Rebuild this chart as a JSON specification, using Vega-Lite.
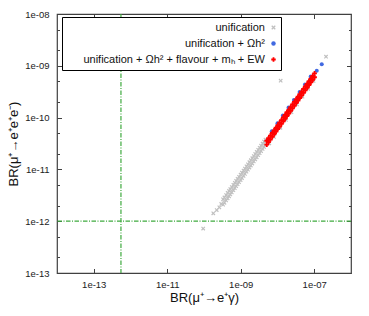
{
  "$schema": "https://vega.github.io/schema/vega-lite/v6.json",
  "width": 294,
  "height": 259,
  "autosize": {"type": "none"},
  "padding": {"left": 57, "top": 14, "right": 18, "bottom": 43},
  "background": "white",
  "config": {
    "font": "Liberation Sans",
    "view": {"stroke": "#404040", "strokeWidth": 1.2},
    "axis": {"domain": false, "grid": false, "tickColor": "#404040", "tickWidth": 1, "labelFont": "Liberation Sans", "labelFontSize": 9.5, "labelColor": "#222", "titleFont": "Liberation Sans", "titleFontSize": 13, "titleFontWeight": "normal", "titleColor": "#111"},
    "legend": {"orient": "none", "legendX": 5, "legendY": 3, "strokeColor": "#000", "fillColor": "#fff", "padding": 5, "labelFont": "Liberation Sans", "labelFontSize": 11, "labelColor": "#111", "labelAlign": "right", "labelOffset": -14, "symbolOffset": 201, "symbolSize": 20, "rowPadding": 4, "labelLimit": 300, "symbolStrokeWidth": 0}
  },
  "datasets": {
    "vline": [{"x": 5.5e-13}],
    "hline": [{"y": 1e-12}],
    "gray": [
      {"series": "unification", "x": 9.5e-11, "y": 7.2e-13},
      {"series": "unification", "x": 1.79e-10, "y": 1.42e-12},
      {"series": "unification", "x": 2.22e-10, "y": 1.64e-12},
      {"series": "unification", "x": 2.61e-10, "y": 1.85e-12},
      {"series": "unification", "x": 2.95e-10, "y": 2.15e-12},
      {"series": "unification", "x": 3.3e-10, "y": 2.08e-12},
      {"series": "unification", "x": 3.3e-10, "y": 2.64e-12},
      {"series": "unification", "x": 3.6e-10, "y": 2.27e-12},
      {"series": "unification", "x": 3.6e-10, "y": 2.88e-12},
      {"series": "unification", "x": 4.0e-10, "y": 2.52e-12},
      {"series": "unification", "x": 4.0e-10, "y": 3.20e-12},
      {"series": "unification", "x": 4.4e-10, "y": 2.77e-12},
      {"series": "unification", "x": 4.4e-10, "y": 3.52e-12},
      {"series": "unification", "x": 4.8e-10, "y": 3.02e-12},
      {"series": "unification", "x": 4.8e-10, "y": 3.84e-12},
      {"series": "unification", "x": 5.2e-10, "y": 3.28e-12},
      {"series": "unification", "x": 5.2e-10, "y": 4.16e-12},
      {"series": "unification", "x": 5.7e-10, "y": 3.59e-12},
      {"series": "unification", "x": 5.7e-10, "y": 4.56e-12},
      {"series": "unification", "x": 6.3e-10, "y": 3.97e-12},
      {"series": "unification", "x": 6.3e-10, "y": 5.04e-12},
      {"series": "unification", "x": 6.9e-10, "y": 4.35e-12},
      {"series": "unification", "x": 6.9e-10, "y": 5.52e-12},
      {"series": "unification", "x": 7.5e-10, "y": 4.73e-12},
      {"series": "unification", "x": 7.5e-10, "y": 6.00e-12},
      {"series": "unification", "x": 8.2e-10, "y": 5.17e-12},
      {"series": "unification", "x": 8.2e-10, "y": 6.56e-12},
      {"series": "unification", "x": 9.0e-10, "y": 5.67e-12},
      {"series": "unification", "x": 9.0e-10, "y": 7.20e-12},
      {"series": "unification", "x": 9.9e-10, "y": 6.24e-12},
      {"series": "unification", "x": 9.9e-10, "y": 7.92e-12},
      {"series": "unification", "x": 1.08e-9, "y": 6.80e-12},
      {"series": "unification", "x": 1.08e-9, "y": 8.64e-12},
      {"series": "unification", "x": 1.19e-9, "y": 7.50e-12},
      {"series": "unification", "x": 1.19e-9, "y": 9.52e-12},
      {"series": "unification", "x": 1.30e-9, "y": 8.19e-12},
      {"series": "unification", "x": 1.30e-9, "y": 1.040e-11},
      {"series": "unification", "x": 1.43e-9, "y": 9.01e-12},
      {"series": "unification", "x": 1.43e-9, "y": 1.144e-11},
      {"series": "unification", "x": 1.57e-9, "y": 9.89e-12},
      {"series": "unification", "x": 1.57e-9, "y": 1.256e-11},
      {"series": "unification", "x": 1.72e-9, "y": 1.084e-11},
      {"series": "unification", "x": 1.72e-9, "y": 1.376e-11},
      {"series": "unification", "x": 1.88e-9, "y": 1.184e-11},
      {"series": "unification", "x": 1.88e-9, "y": 1.504e-11},
      {"series": "unification", "x": 2.06e-9, "y": 1.298e-11},
      {"series": "unification", "x": 2.06e-9, "y": 1.648e-11},
      {"series": "unification", "x": 2.26e-9, "y": 1.424e-11},
      {"series": "unification", "x": 2.26e-9, "y": 1.808e-11},
      {"series": "unification", "x": 2.48e-9, "y": 1.562e-11},
      {"series": "unification", "x": 2.48e-9, "y": 1.984e-11},
      {"series": "unification", "x": 2.72e-9, "y": 1.714e-11},
      {"series": "unification", "x": 2.72e-9, "y": 2.176e-11},
      {"series": "unification", "x": 2.98e-9, "y": 1.877e-11},
      {"series": "unification", "x": 2.98e-9, "y": 2.384e-11},
      {"series": "unification", "x": 3.27e-9, "y": 2.060e-11},
      {"series": "unification", "x": 3.27e-9, "y": 2.616e-11},
      {"series": "unification", "x": 3.58e-9, "y": 2.255e-11},
      {"series": "unification", "x": 3.58e-9, "y": 2.864e-11},
      {"series": "unification", "x": 3.93e-9, "y": 2.476e-11},
      {"series": "unification", "x": 3.93e-9, "y": 3.144e-11},
      {"series": "unification", "x": 4.3e-9, "y": 2.709e-11},
      {"series": "unification", "x": 4.3e-9, "y": 3.440e-11},
      {"series": "unification", "x": 4.7e-9, "y": 2.961e-11},
      {"series": "unification", "x": 4.7e-9, "y": 3.760e-11},
      {"series": "unification", "x": 6.0e-9, "y": 3.18e-11},
      {"series": "unification", "x": 8.0e-9, "y": 4.24e-11},
      {"series": "unification", "x": 1.2e-8, "y": 6.36e-11},
      {"series": "unification", "x": 1.7e-8, "y": 9.01e-11},
      {"series": "unification", "x": 2.4e-8, "y": 1.272e-10},
      {"series": "unification", "x": 3.4e-8, "y": 1.80e-10},
      {"series": "unification", "x": 4.8e-8, "y": 2.54e-10},
      {"series": "unification", "x": 6.8e-8, "y": 3.60e-10},
      {"series": "unification", "x": 9.6e-8, "y": 5.09e-10},
      {"series": "unification", "x": 1.22e-8, "y": 5.15e-10},
      {"series": "unification", "x": 2.09e-7, "y": 1.50e-9}
    ],
    "blue": [
      {"series": "unification + Ωh²", "x": 5.5e-9, "y": 3.6e-11},
      {"series": "unification + Ωh²", "x": 7.0e-9, "y": 5.46e-11},
      {"series": "unification + Ωh²", "x": 1.0e-8, "y": 7.8e-11},
      {"series": "unification + Ωh²", "x": 1.4e-8, "y": 1.092e-10},
      {"series": "unification + Ωh²", "x": 2.0e-8, "y": 1.56e-10},
      {"series": "unification + Ωh²", "x": 2.8e-8, "y": 2.184e-10},
      {"series": "unification + Ωh²", "x": 4.0e-8, "y": 3.12e-10},
      {"series": "unification + Ωh²", "x": 5.6e-8, "y": 4.368e-10},
      {"series": "unification + Ωh²", "x": 8.0e-8, "y": 6.24e-10},
      {"series": "unification + Ωh²", "x": 1.17e-7, "y": 8.04e-10},
      {"series": "unification + Ωh²", "x": 1.6e-7, "y": 1.07e-9}
    ],
    "red": [
      {"series": "unification + Ωh² + flavour + mₕ + EW", "x": 5.1e-9, "y": 3.01e-11},
      {"series": "unification + Ωh² + flavour + mₕ + EW", "x": 5.1e-9, "y": 3.57e-11},
      {"series": "unification + Ωh² + flavour + mₕ + EW", "x": 5.7e-9, "y": 3.36e-11},
      {"series": "unification + Ωh² + flavour + mₕ + EW", "x": 5.7e-9, "y": 3.99e-11},
      {"series": "unification + Ωh² + flavour + mₕ + EW", "x": 6.4e-9, "y": 3.78e-11},
      {"series": "unification + Ωh² + flavour + mₕ + EW", "x": 6.4e-9, "y": 4.48e-11},
      {"series": "unification + Ωh² + flavour + mₕ + EW", "x": 7.2e-9, "y": 4.25e-11},
      {"series": "unification + Ωh² + flavour + mₕ + EW", "x": 7.2e-9, "y": 5.04e-11},
      {"series": "unification + Ωh² + flavour + mₕ + EW", "x": 8.1e-9, "y": 4.78e-11},
      {"series": "unification + Ωh² + flavour + mₕ + EW", "x": 8.1e-9, "y": 5.67e-11},
      {"series": "unification + Ωh² + flavour + mₕ + EW", "x": 9.1e-9, "y": 5.37e-11},
      {"series": "unification + Ωh² + flavour + mₕ + EW", "x": 9.1e-9, "y": 6.37e-11},
      {"series": "unification + Ωh² + flavour + mₕ + EW", "x": 1.02e-8, "y": 6.02e-11},
      {"series": "unification + Ωh² + flavour + mₕ + EW", "x": 1.02e-8, "y": 7.14e-11},
      {"series": "unification + Ωh² + flavour + mₕ + EW", "x": 1.14e-8, "y": 6.73e-11},
      {"series": "unification + Ωh² + flavour + mₕ + EW", "x": 1.14e-8, "y": 7.98e-11},
      {"series": "unification + Ωh² + flavour + mₕ + EW", "x": 1.28e-8, "y": 7.55e-11},
      {"series": "unification + Ωh² + flavour + mₕ + EW", "x": 1.28e-8, "y": 8.96e-11},
      {"series": "unification + Ωh² + flavour + mₕ + EW", "x": 1.44e-8, "y": 8.50e-11},
      {"series": "unification + Ωh² + flavour + mₕ + EW", "x": 1.44e-8, "y": 1.008e-10},
      {"series": "unification + Ωh² + flavour + mₕ + EW", "x": 1.61e-8, "y": 9.50e-11},
      {"series": "unification + Ωh² + flavour + mₕ + EW", "x": 1.61e-8, "y": 1.127e-10},
      {"series": "unification + Ωh² + flavour + mₕ + EW", "x": 1.81e-8, "y": 1.068e-10},
      {"series": "unification + Ωh² + flavour + mₕ + EW", "x": 1.81e-8, "y": 1.267e-10},
      {"series": "unification + Ωh² + flavour + mₕ + EW", "x": 2.03e-8, "y": 1.198e-10},
      {"series": "unification + Ωh² + flavour + mₕ + EW", "x": 2.03e-8, "y": 1.421e-10},
      {"series": "unification + Ωh² + flavour + mₕ + EW", "x": 2.28e-8, "y": 1.345e-10},
      {"series": "unification + Ωh² + flavour + mₕ + EW", "x": 2.28e-8, "y": 1.596e-10},
      {"series": "unification + Ωh² + flavour + mₕ + EW", "x": 2.56e-8, "y": 1.510e-10},
      {"series": "unification + Ωh² + flavour + mₕ + EW", "x": 2.56e-8, "y": 1.792e-10},
      {"series": "unification + Ωh² + flavour + mₕ + EW", "x": 2.87e-8, "y": 1.693e-10},
      {"series": "unification + Ωh² + flavour + mₕ + EW", "x": 2.87e-8, "y": 2.009e-10},
      {"series": "unification + Ωh² + flavour + mₕ + EW", "x": 3.22e-8, "y": 1.900e-10},
      {"series": "unification + Ωh² + flavour + mₕ + EW", "x": 3.22e-8, "y": 2.254e-10},
      {"series": "unification + Ωh² + flavour + mₕ + EW", "x": 3.61e-8, "y": 2.130e-10},
      {"series": "unification + Ωh² + flavour + mₕ + EW", "x": 3.61e-8, "y": 2.527e-10},
      {"series": "unification + Ωh² + flavour + mₕ + EW", "x": 4.05e-8, "y": 2.390e-10},
      {"series": "unification + Ωh² + flavour + mₕ + EW", "x": 4.05e-8, "y": 2.835e-10},
      {"series": "unification + Ωh² + flavour + mₕ + EW", "x": 4.54e-8, "y": 2.679e-10},
      {"series": "unification + Ωh² + flavour + mₕ + EW", "x": 4.54e-8, "y": 3.178e-10},
      {"series": "unification + Ωh² + flavour + mₕ + EW", "x": 5.1e-8, "y": 3.009e-10},
      {"series": "unification + Ωh² + flavour + mₕ + EW", "x": 5.1e-8, "y": 3.570e-10},
      {"series": "unification + Ωh² + flavour + mₕ + EW", "x": 5.7e-8, "y": 3.363e-10},
      {"series": "unification + Ωh² + flavour + mₕ + EW", "x": 5.7e-8, "y": 3.990e-10},
      {"series": "unification + Ωh² + flavour + mₕ + EW", "x": 6.4e-8, "y": 3.776e-10},
      {"series": "unification + Ωh² + flavour + mₕ + EW", "x": 6.4e-8, "y": 4.480e-10},
      {"series": "unification + Ωh² + flavour + mₕ + EW", "x": 7.2e-8, "y": 4.248e-10},
      {"series": "unification + Ωh² + flavour + mₕ + EW", "x": 7.2e-8, "y": 5.040e-10},
      {"series": "unification + Ωh² + flavour + mₕ + EW", "x": 8.1e-8, "y": 4.779e-10},
      {"series": "unification + Ωh² + flavour + mₕ + EW", "x": 8.1e-8, "y": 5.670e-10},
      {"series": "unification + Ωh² + flavour + mₕ + EW", "x": 9.1e-8, "y": 5.369e-10},
      {"series": "unification + Ωh² + flavour + mₕ + EW", "x": 9.1e-8, "y": 6.370e-10},
      {"series": "unification + Ωh² + flavour + mₕ + EW", "x": 1.02e-7, "y": 6.018e-10},
      {"series": "unification + Ωh² + flavour + mₕ + EW", "x": 1.02e-7, "y": 7.140e-10}
    ]
  },
  "layer": [
    {
      "data": {"name": "vline"},
      "mark": {"type": "rule", "strokeWidth": 1.2, "strokeDash": [4.5, 1.5, 1, 1.5]},
      "encoding": {
        "x": {"field": "x", "type": "quantitative", "scale": {"type": "log", "domain": [1e-14, 1e-6], "nice": false}, "axis": null},
        "color": {"value": "#3faa3f"}
      }
    },
    {
      "data": {"name": "hline"},
      "mark": {"type": "rule", "strokeWidth": 1.2, "strokeDash": [4.5, 1.5, 1, 1.5]},
      "encoding": {
        "y": {"field": "y", "type": "quantitative", "scale": {"type": "log", "domain": [1e-13, 1e-8], "nice": false},
          "axis": {"orient": "right", "values": [2e-13, 5e-13, 2e-12, 5e-12, 2e-11, 5e-11, 2e-10, 5e-10, 2e-9, 5e-9], "labels": false, "tickSize": -2.5, "title": null}},
        "color": {"value": "#3faa3f"}
      }
    },
    {
      "data": {"name": "gray"},
      "mark": {"type": "point", "filled": true, "size": 18, "opacity": 1},
      "encoding": {
        "x": {"field": "x", "type": "quantitative", "scale": {"type": "log", "domain": [1e-14, 1e-6], "nice": false},
          "axis": {"orient": "bottom", "values": [1e-13, 1e-11, 1e-9, 1e-7], "tickSize": -4.5, "labelPadding": 10.5, "title": "BR(μ⁺→e⁺γ)", "titlePadding": 3,
            "labelExpr": "'1e-' + (abs(round(log(datum.value)/LN10)) < 10 ? '0' : '') + abs(round(log(datum.value)/LN10))"}},
        "y": {"field": "y", "type": "quantitative", "scale": {"type": "log", "domain": [1e-13, 1e-8], "nice": false},
          "axis": {"orient": "left", "values": [1e-13, 1e-12, 1e-11, 1e-10, 1e-9, 1e-8], "tickSize": -4.5, "labelPadding": 12.5, "title": "BR(μ⁺→e⁺e⁺e⁻)", "titlePadding": 4,
            "labelExpr": "'1e-' + (abs(round(log(datum.value)/LN10)) < 10 ? '0' : '') + abs(round(log(datum.value)/LN10))"}},
        "color": {"field": "series", "type": "nominal", "title": null,
          "scale": {"domain": ["unification", "unification + Ωh²", "unification + Ωh² + flavour + mₕ + EW"], "range": ["#c0c0c0", "#4169e1", "#ff0000"]}},
        "shape": {"field": "series", "type": "nominal", "title": null,
          "scale": {"domain": ["unification", "unification + Ωh²", "unification + Ωh² + flavour + mₕ + EW"], "range": ["M-1,-0.6L-0.6,-1L0,-0.4L0.6,-1L1,-0.6L0.4,0L1,0.6L0.6,1L0,0.4L-0.6,1L-1,0.6L-0.4,0Z", "circle", "cross"]}}
      }
    },
    {
      "data": {"name": "blue"},
      "mark": {"type": "point", "filled": true, "size": 16, "opacity": 1},
      "encoding": {
        "x": {"field": "x", "type": "quantitative", "scale": {"type": "log", "domain": [1e-14, 1e-6], "nice": false},
          "axis": {"orient": "top", "values": [1e-13, 1e-11, 1e-9, 1e-7], "tickSize": -4.5, "labels": false, "title": null}},
        "y": {"field": "y", "type": "quantitative", "scale": {"type": "log", "domain": [1e-13, 1e-8], "nice": false},
          "axis": {"orient": "right", "values": [1e-13, 1e-12, 1e-11, 1e-10, 1e-9, 1e-8], "tickSize": -4.5, "labels": false, "title": null}},
        "color": {"field": "series", "type": "nominal", "title": null},
        "shape": {"field": "series", "type": "nominal", "title": null}
      }
    },
    {
      "data": {"name": "red"},
      "mark": {"type": "point", "filled": true, "size": 22, "opacity": 1},
      "encoding": {
        "x": {"field": "x", "type": "quantitative", "scale": {"type": "log", "domain": [1e-14, 1e-6], "nice": false}, "axis": null},
        "y": {"field": "y", "type": "quantitative", "scale": {"type": "log", "domain": [1e-13, 1e-8], "nice": false},
          "axis": {"orient": "left", "values": [2e-13, 5e-13, 2e-12, 5e-12, 2e-11, 5e-11, 2e-10, 5e-10, 2e-9, 5e-9], "labels": false, "tickSize": -2.5, "title": null}},
        "color": {"field": "series", "type": "nominal", "title": null},
        "shape": {"field": "series", "type": "nominal", "title": null}
      }
    }
  ],
  "resolve": {"axis": {"x": "independent", "y": "independent"}}
}
